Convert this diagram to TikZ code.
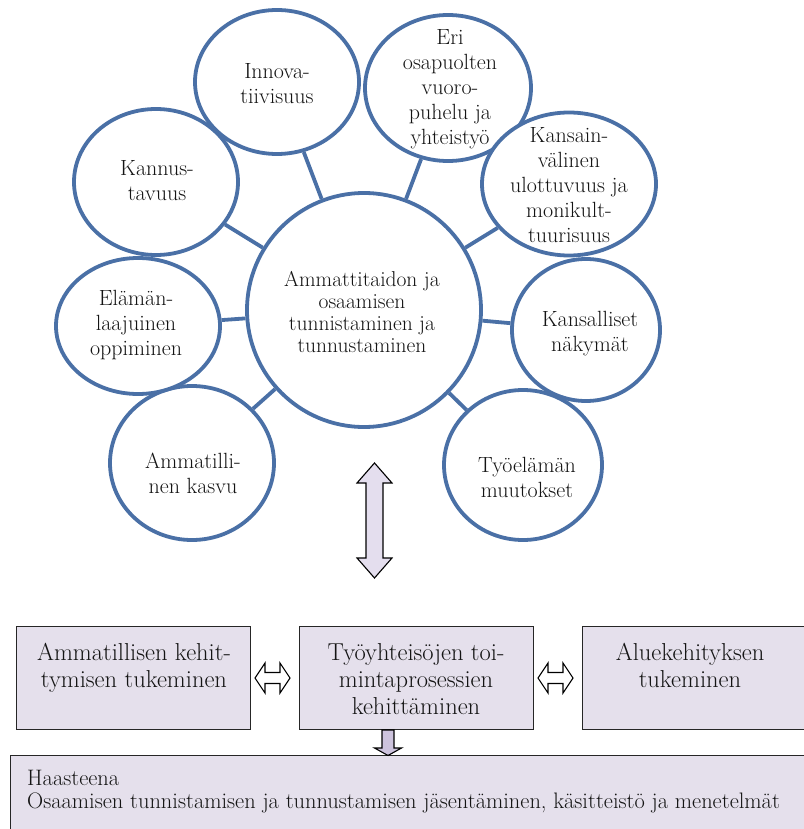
\documentclass[tikz,border=0pt]{standalone}
\usetikzlibrary{shapes.geometric}
\definecolor{ringblue}{RGB}{74,112,166}
\definecolor{panelfill}{RGB}{229,224,236}
\definecolor{panelline}{RGB}{38,38,38}
\definecolor{arrowfill}{RGB}{228,222,238}
\definecolor{downfill}{RGB}{205,195,221}
\definecolor{txt}{RGB}{20,20,20}
\begin{document}
\begin{tikzpicture}[x=1pt,y=-1pt,
  ring/.style={ellipse, draw=ringblue, line width=3.8pt, fill=white, inner sep=0pt},
  ringtext/.style={align=center, inner sep=0pt, text=txt, font=\fontsize{22}{25}\selectfont},
  link/.style={draw=ringblue, line width=3.8pt},
  panel/.style={rectangle, draw=panelline, line width=1.4pt, fill=panelfill, inner sep=0pt, anchor=north west},
  paneltext/.style={align=center, inner sep=0pt, anchor=north, text=txt, font=\fontsize{24.5}{27}\selectfont},
  hollow/.style={draw=black, line width=1.1pt, fill=white, line join=miter},
  bigarrow/.style={draw=black, line width=1.1pt, fill=arrowfill, line join=miter},
  downarrow/.style={draw=black, line width=1.1pt, fill=downfill, line join=miter},
]
\useasboundingbox (0,0) rectangle (803,829);

% central circle
\node[ring, minimum width=234pt, minimum height=234pt] (hub) at (364,310) {};
\node[ringtext, font=\fontsize{21.5}{22.3}\selectfont] (hub-t) at (362,312)
  {Ammattitaidon ja\\osaamisen\\tunnistaminen ja\\tunnustaminen};

% surrounding themes
\node[ring, minimum width=164pt, minimum height=146pt] (kannus) at (156,182) {};
\node[ring, minimum width=164pt, minimum height=144pt] (innov) at (277,82) {};
\node[ring, minimum width=166pt, minimum height=146pt] (eri) at (448,88) {};
\node[ring, minimum width=174pt, minimum height=143pt] (kvl) at (569,184) {};
\node[ring, minimum width=148pt, minimum height=142pt] (kans) at (586,330) {};
\node[ring, minimum width=158pt, minimum height=150pt] (tyo) at (523,465) {};
\node[ring, minimum width=164pt, minimum height=154pt] (kasvu) at (192,463) {};
\node[ring, minimum width=164pt, minimum height=136pt] (elam) at (138,326) {};

\node[ringtext] (kannus-t) at (157,181) {Kannus-\\tavuus};
\node[ringtext] (innov-t) at (277,84) {Innova-\\tiivisuus};
\node[ringtext] (eri-t) at (450,89) {Eri\\osapuolten\\vuoro-\\puhelu ja\\yhteistyö};
\node[ringtext] (kvl-t) at (569,185) {Kansain-\\välinen\\ulottuvuus ja\\monikult-\\tuurisuus};
\node[ringtext] (kans-t) at (590,334) {Kansalliset\\näkymät};
\node[ringtext] (tyo-t) at (527,477) {Työelämän\\muutokset};
\node[ringtext] (kasvu-t) at (193,473) {Ammatilli-\\nen kasvu};
\node[ringtext] (elam-t) at (136,325) {Elämän-\\laajuinen\\oppiminen};

% spokes
\foreach \s in {kannus,innov,eri,kvl,kans,tyo,kasvu,elam}
  \draw[link] (\s) -- (hub);

% two-way arrow between the circle and the panels
\draw[bigarrow, shift={(374.5,520.5)}]
  (0,-57.5) -- (17.5,-37.5) -- (8.5,-37.5) -- (8.5,37.5) -- (17.5,37.5) -- (0,57.5)
  -- (-17.5,37.5) -- (-8.5,37.5) -- (-8.5,-37.5) -- (-17.5,-37.5) -- cycle;

% panels
\node[panel, minimum width=234pt, minimum height=103pt] (boxA) at (16,626) {};
\node[panel, minimum width=234pt, minimum height=103pt] (boxB) at (299,626) {};
\node[panel, minimum width=240pt, minimum height=103pt] (boxC) at (582,626) {};
\node[panel, minimum width=810pt, minimum height=90pt] (boxD) at (10,755) {};

\node[paneltext] (boxA-t) at (134,643) {Ammatillisen kehit-\\tymisen tukeminen};
\node[paneltext] (boxB-t) at (416,643) {Työyhteisöjen toi-\\mintaprosessien\\kehittäminen};
\node[paneltext] (boxC-t) at (690,643) {Aluekehityksen\\tukeminen};
\node[align=left, inner sep=0pt, anchor=north west, text=txt,
      font=\fontsize{22.4}{22.5}\selectfont] (boxD-t) at (27,770)
  {Haasteena\\Osaamisen tunnistamisen ja tunnustamisen jäsentäminen, käsitteistö ja menetelmät};

% small two-way arrows between panels
\foreach \cx in {272.5,555.5}
  \draw[hollow, shift={(\cx,678)}]
    (-17.5,0) -- (-7.5,-15) -- (-7.5,-5.5) -- (7.5,-5.5) -- (7.5,-15) -- (17.5,0)
    -- (7.5,15) -- (7.5,5.5) -- (-7.5,5.5) -- (-7.5,15) -- cycle;

% arrow down to the challenge panel
\draw[downarrow] (382,730) -- (394,730) -- (394,748) -- (401.5,748) -- (388,755.5)
  -- (374.5,748) -- (382,748) -- cycle;
\end{tikzpicture}
\end{document}
